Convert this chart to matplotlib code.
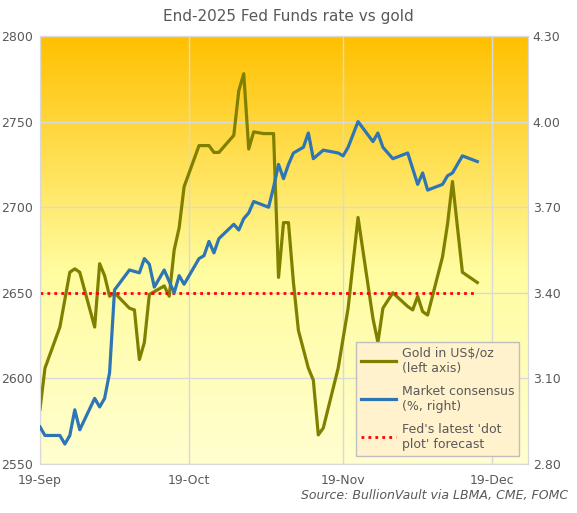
import numpy as np
import pandas as pd
import matplotlib
matplotlib.use("Agg")
import matplotlib.pyplot as plt
from matplotlib.colors import LinearSegmentedColormap

start = pd.Timestamp("2025-09-19")

gold_days = [0, 1, 4, 6, 7, 8, 11, 12, 13, 14, 15, 18, 19, 20, 21, 22, 25, 26, 27, 28, 29,
             32, 34, 35, 36, 39, 40, 41, 42, 43, 45, 47, 48, 49, 50, 51, 52, 54, 55, 56, 57,
             60, 62, 64, 67, 68, 69, 71, 74, 75, 76, 77, 78, 81, 82, 83, 85, 88]
gold = [2582, 2606, 2630, 2662, 2664, 2662, 2630, 2667, 2660, 2648, 2650, 2641, 2640, 2611,
        2621, 2649, 2654, 2648, 2675, 2688, 2712, 2736, 2736, 2732, 2732, 2742, 2768, 2778,
        2734, 2744, 2743, 2743, 2659, 2691, 2691, 2656, 2628, 2606, 2599, 2567, 2571, 2606,
        2641, 2694, 2635, 2621, 2641, 2650, 2642, 2640, 2648, 2639, 2637, 2671, 2690, 2715,
        2662, 2656]

rate_days = [0, 1, 4, 5, 6, 7, 8, 11, 12, 13, 14, 15, 18, 20, 21, 22, 23, 25, 27, 28, 29,
             32, 33, 34, 35, 36, 39, 40, 41, 42, 43, 46, 47, 48, 49, 50, 51, 53, 54, 55, 57,
             60, 61, 62, 64, 67, 68, 69, 71, 74, 76, 77, 78, 81, 82, 83, 85, 88]
rates = [2.93, 2.90, 2.90, 2.87, 2.90, 2.99, 2.92, 3.03, 3.00, 3.03, 3.12, 3.41, 3.48, 3.47,
         3.52, 3.50, 3.42, 3.48, 3.40, 3.46, 3.43, 3.52, 3.53, 3.58, 3.54, 3.59, 3.64, 3.62,
         3.66, 3.68, 3.72, 3.70, 3.77, 3.85, 3.80, 3.85, 3.89, 3.91, 3.96, 3.87, 3.90, 3.89,
         3.88, 3.91, 4.00, 3.93, 3.96, 3.91, 3.87, 3.89, 3.78, 3.82, 3.76, 3.78, 3.81, 3.82,
         3.88, 3.86]

dot_plot = 3.40
dot_end_day = 88

gold_dates = start + pd.to_timedelta(gold_days, unit="D")
rate_dates = start + pd.to_timedelta(rate_days, unit="D")

fig = plt.figure(figsize=(5.77, 5.13), dpi=100)
ax = fig.add_axes([40 / 577, 49 / 513, 488 / 577, 428 / 513])
ax2 = ax.twinx()

x0 = start
x1 = start + pd.Timedelta(days=98.2)
ax.set_xlim(x0, x1)
ax.set_ylim(2550, 2800)
ax2.set_ylim(2.80, 4.30)

# gradient background
cmap = LinearSegmentedColormap.from_list("bg", [(0, "#FFFFD0"), (0.45, "#FFFCA0"), (1, "#FFC000")])
grad = np.linspace(0, 1, 256).reshape(-1, 1)
ax.imshow(grad, aspect="auto", cmap=cmap, origin="lower",
          extent=[matplotlib.dates.date2num(x0), matplotlib.dates.date2num(x1), 2550, 2800], zorder=0)

ticks = [start + pd.Timedelta(days=d) for d in (0, 30, 61, 91)]
ax.set_xticks(ticks)
ax.set_xticklabels(["19-Sep", "19-Oct", "19-Nov", "19-Dec"])
ax.set_yticks(np.arange(2550, 2801, 50))
ax2.set_yticks(np.arange(2.80, 4.31, 0.30))
ax2.set_yticklabels([f"{v:.2f}" for v in np.arange(2.80, 4.31, 0.30)])
ax.grid(True, color="#D9D9D9", linewidth=1, zorder=1)
ax.set_axisbelow(False)

for a in (ax, ax2):
    a.tick_params(length=0, labelsize=9, colors="#595959")
    for s in a.spines.values():
        s.set_color("#D9D9D9")
ax.tick_params(axis="x", pad=7)
ax.tick_params(axis="y", pad=5)

l1, = ax.plot(gold_dates, gold, color="#808000", linewidth=2.3, zorder=3, label="Gold in US$/oz\n(left axis)")
l2, = ax2.plot(rate_dates, rates, color="#2E75B6", linewidth=2.3, zorder=3, label="Market consensus\n(%, right)")
l3, = ax2.plot([start, start + pd.Timedelta(days=dot_end_day)], [dot_plot, dot_plot],
               color="red", linestyle=(0, (1, 1.5)), linewidth=2, label="Fed's latest 'dot\nplot' forecast")

leg = ax2.legend(handles=[l1, l2, l3], loc="lower right", bbox_to_anchor=(0.995, 0.005),
                 fontsize=9, frameon=True, fancybox=False, labelspacing=0.8,
                 handlelength=2.8, handletextpad=0.5, labelcolor="#595959")
leg.get_frame().set_facecolor("#FFF2CC")
leg.get_frame().set_edgecolor("#BFBFBF")
leg.get_frame().set_alpha(1)

fig.text(0.5, 1 - 17 / 513, "End-2025 Fed Funds rate vs gold", ha="center", va="center",
         fontsize=11, color="#595959")
fig.text(0.985, 1 - 495 / 513, "Source: BullionVault via LBMA, CME, FOMC", ha="right",
         va="center", fontsize=9, color="#595959", style="italic")

fig.savefig("out.png", dpi=100)
